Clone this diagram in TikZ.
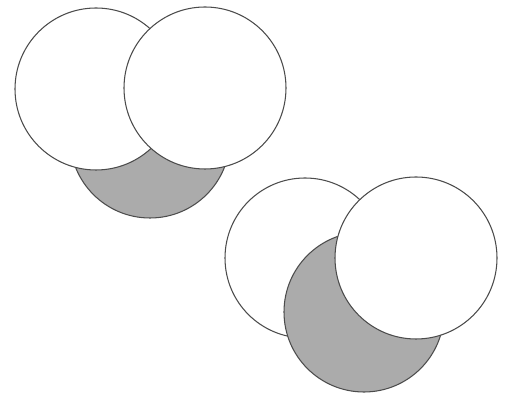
\documentclass[tikz,border=0pt]{standalone}
\usepackage{tikz}

\tikzset{
    whitedisc/.style={draw=black!70, fill=white, line width=0.6pt},
    greydisc/.style={draw=black!70, fill=black!33, line width=0.6pt}
}

\begin{document}
\begin{tikzpicture}[x=0.02cm, y=-0.02cm]

    % frame of the picture (pixel units, y downwards)
    \useasboundingbox (0,0) rectangle (507,394);

    % === Top-left group: grey disc behind two white discs ===
    \draw[greydisc]  (150,138) circle (80);
    \draw[whitedisc] (96,89)   circle (81);
    \draw[whitedisc] (205,88)  circle (81);

    % === Bottom-right group: grey disc between two white discs ===
    \draw[whitedisc] (305,258) circle (80);
    \draw[greydisc]  (364,312) circle (80);
    \draw[whitedisc] (416,258) circle (81);

\end{tikzpicture}
\end{document}
